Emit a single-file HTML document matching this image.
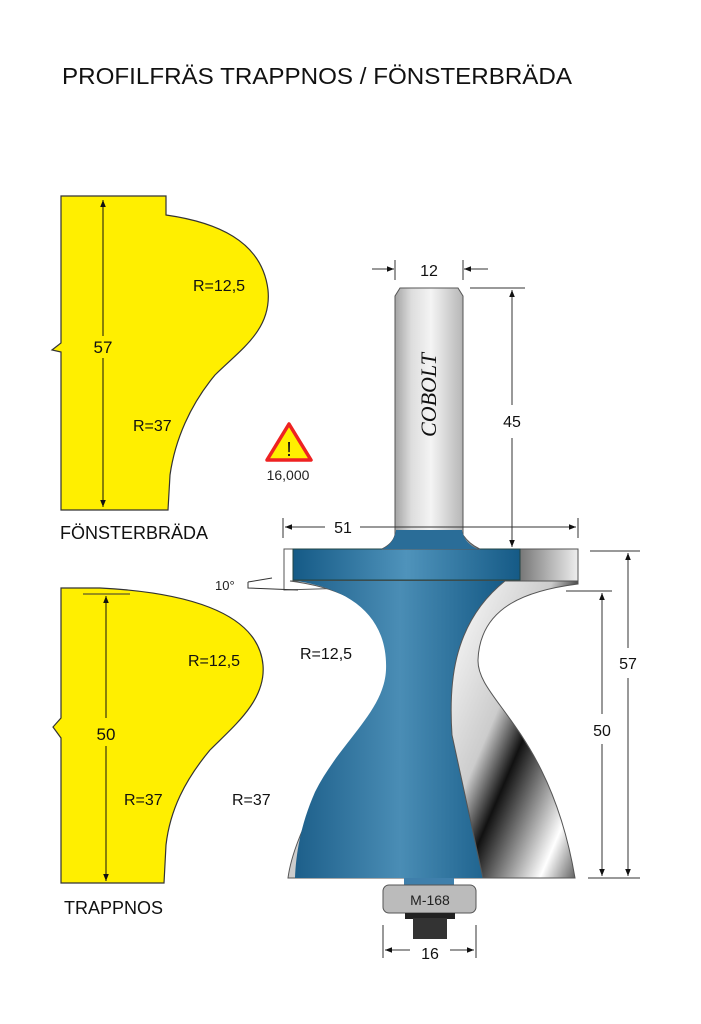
<!DOCTYPE html>
<html><head><meta charset="utf-8"><style>
html,body{margin:0;padding:0;background:#fff}
svg{display:block}
text{font-family:"Liberation Sans",sans-serif}
</style></head><body>
<svg width="701" height="1024" viewBox="0 0 701 1024" xmlns="http://www.w3.org/2000/svg">
<defs>
<marker id="a" viewBox="0 0 10 10" refX="10" refY="5" markerWidth="7" markerHeight="7" orient="auto-start-reverse"><path d="M0,1 L10,5 L0,9z" fill="#111"/></marker>
<linearGradient id="shank" x1="0" x2="1"><stop offset="0" stop-color="#777"/><stop offset="0.3" stop-color="#ddd"/><stop offset="0.5" stop-color="#f4f4f4"/><stop offset="0.8" stop-color="#bbb"/><stop offset="1" stop-color="#666"/></linearGradient>
<linearGradient id="blue" x1="0" x2="1"><stop offset="0" stop-color="#1d5f8a"/><stop offset="0.5" stop-color="#4a8db5"/><stop offset="1" stop-color="#155a86"/></linearGradient>
<linearGradient id="bluef" x1="0" x2="1"><stop offset="0" stop-color="#155a86"/><stop offset="0.5" stop-color="#4f93bb"/><stop offset="1" stop-color="#155a86"/></linearGradient>
<linearGradient id="silv" x1="0" y1="0" x2="1" y2="1"><stop offset="0" stop-color="#fff"/><stop offset="0.4" stop-color="#ccc"/><stop offset="0.55" stop-color="#111"/><stop offset="0.7" stop-color="#888"/><stop offset="0.85" stop-color="#fff"/><stop offset="1" stop-color="#555"/></linearGradient>
<linearGradient id="flsil" x1="0" x2="1"><stop offset="0" stop-color="#777"/><stop offset="1" stop-color="#eee"/></linearGradient>
</defs>
<text x="62" y="84" font-size="23" fill="#111" textLength="510" lengthAdjust="spacingAndGlyphs">PROFILFRÄS TRAPPNOS / FÖNSTERBRÄDA</text>

<!-- yellow 1 -->
<path d="M61,196 L166,196 L166,215 C215,222 262,240 268,290 C272,330 240,350 215,375 C190,405 175,440 170,475 L168,510 L61,510 L61,352 L52,350 L61,343 Z" fill="#ffef00" stroke="#333" stroke-width="1.2"/>
<line x1="103" y1="200" x2="103" y2="336" stroke="#111" marker-start="url(#a)"/>
<line x1="103" y1="358" x2="103" y2="507" stroke="#111" marker-end="url(#a)"/>
<text x="103" y="353" font-size="17" text-anchor="middle" fill="#111">57</text>
<text x="193" y="291" font-size="16" fill="#111">R=12,5</text>
<text x="133" y="431" font-size="16" fill="#111">R=37</text>
<text x="60" y="539" font-size="18" fill="#111">FÖNSTERBRÄDA</text>

<!-- yellow 2 -->
<path d="M61,588 L100,588 C180,592 258,610 263,665 C266,700 235,725 210,750 C185,780 170,810 166,845 L164,883 L61,883 L61,738 L53,727 L61,718 Z" fill="#ffef00" stroke="#333" stroke-width="1.2"/>
<line x1="83" y1="594" x2="130" y2="594" stroke="#333"/>
<line x1="106" y1="596" x2="106" y2="718" stroke="#111" marker-start="url(#a)"/>
<line x1="106" y1="746" x2="106" y2="881" stroke="#111" marker-end="url(#a)"/>
<text x="106" y="740" font-size="17" text-anchor="middle" fill="#111">50</text>
<text x="188" y="666" font-size="16" fill="#111">R=12,5</text>
<text x="124" y="805" font-size="16" fill="#111">R=37</text>
<text x="64" y="914" font-size="18" fill="#111">TRAPPNOS</text>

<!-- warning -->
<path d="M289,424 L311,460 L267,460 Z" fill="#ffef00" stroke="#e22" stroke-width="3.5" stroke-linejoin="round"/>
<text x="289" y="456" font-size="20" text-anchor="middle" fill="#111">!</text>
<text x="288" y="480" font-size="14" text-anchor="middle" fill="#222">16,000</text>

<!-- bit body -->
<path d="M284,549 L578,549 L578,581 L284,590 Z" fill="#fff" stroke="#555"/>
<path d="M290,581 C360,590 394,620 392,670 C390,712 346,742 321,792 C302,828 291,855 288,878 L483,878 L452,735 C449,690 450,625 505,581 Z" fill="#ccc" stroke="#555"/>
<path d="M297,581 C355,590 388,620 386,670 C384,712 340,742 315,792 C300,826 296,855 295,878 L483,878 L452,735 C449,690 450,625 505,581 Z" fill="url(#blue)"/>
<path d="M505,581 L578,581 L578,584 C530,590 480,605 478,660 C477,700 550,730 575,878 L483,878 L452,735 C449,690 450,625 505,581 Z" fill="url(#silv)" stroke="#555"/>
<rect x="520" y="549" width="58" height="32" fill="url(#flsil)" stroke="#555"/>
<rect x="293" y="549" width="227" height="31" fill="url(#bluef)" stroke="#244"/>
<!-- shank -->
<path d="M395,296 L400,288 L458,288 L463,296 L463,535 C470,545 478,548 480,549 L382,549 C386,547 393,543 395,535 Z" fill="url(#shank)" stroke="#555"/>
<path d="M382,549 C388,547 395,540 396,530 L462,530 C463,540 472,547 478,549 Z" fill="#2a6d98"/>
<text transform="translate(436,395) rotate(-90)" style="font-family:'Liberation Serif',serif;font-style:italic" font-size="22" text-anchor="middle" fill="#111">COBOLT</text>
<!-- bearing -->
<rect x="404" y="878" width="50" height="8" fill="#3f7fab"/>
<rect x="383" y="885" width="93" height="28" rx="6" fill="#bbb" stroke="#555"/>
<text x="430" y="905" font-size="14" text-anchor="middle" fill="#222">M-168</text>
<rect x="405" y="913" width="50" height="6" fill="#222"/>
<rect x="413" y="918" width="34" height="21" fill="#333"/>

<!-- dimensions -->
<g stroke="#333" stroke-width="1" fill="none">
<line x1="395" y1="260" x2="395" y2="280"/><line x1="463" y1="260" x2="463" y2="280"/>
<line x1="372" y1="269" x2="394" y2="269" marker-end="url(#a)"/><line x1="488" y1="269" x2="464" y2="269" marker-end="url(#a)"/>
<line x1="470" y1="288" x2="525" y2="288"/>
<line x1="512" y1="290" x2="512" y2="405" marker-start="url(#a)"/><line x1="512" y1="438" x2="512" y2="547" marker-end="url(#a)"/>
<line x1="283" y1="518" x2="283" y2="538"/><line x1="578" y1="518" x2="578" y2="538"/>
<line x1="285" y1="527" x2="325" y2="527" marker-start="url(#a)"/><line x1="360" y1="527" x2="576" y2="527" marker-end="url(#a)"/>
<line x1="590" y1="551" x2="640" y2="551"/><line x1="566" y1="591" x2="612" y2="591"/><line x1="588" y1="878" x2="640" y2="878"/>
<line x1="628" y1="553" x2="628" y2="648" marker-start="url(#a)"/><line x1="628" y1="678" x2="628" y2="876" marker-end="url(#a)"/>
<line x1="602" y1="593" x2="602" y2="714" marker-start="url(#a)"/><line x1="602" y1="744" x2="602" y2="876" marker-end="url(#a)"/>
<line x1="383" y1="925" x2="383" y2="958"/><line x1="476" y1="925" x2="476" y2="958"/>
<line x1="385" y1="950" x2="410" y2="950" marker-start="url(#a)"/><line x1="450" y1="950" x2="474" y2="950" marker-end="url(#a)"/>
<path d="M248,582 L272,578 M248,582 L248,588 L298,590"/>
</g>
<g font-size="16" fill="#111" text-anchor="middle">
<text x="429" y="276">12</text>
<text x="512" y="427">45</text>
<text x="343" y="533">51</text>
<text x="628" y="669">57</text>
<text x="602" y="736">50</text>
<text x="430" y="959">16</text>
</g>
<text x="215" y="590" font-size="13" fill="#222">10°</text>
<text x="300" y="659" font-size="16" fill="#111">R=12,5</text>
<text x="232" y="805" font-size="16" fill="#111">R=37</text>
</svg>
</body></html>
